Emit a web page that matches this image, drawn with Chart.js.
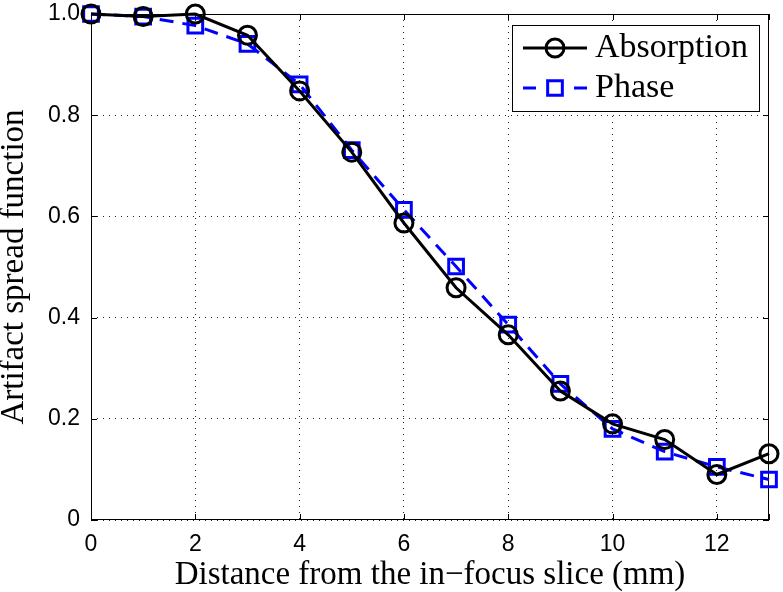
<!DOCTYPE html>
<html>
<head>
<meta charset="utf-8">
<script src="https://cdn.jsdelivr.net/npm/chart.js@4"></script>
<style>
html,body{margin:0;padding:0;background:#fff;}
#wrap{width:783px;height:592px;}
</style>
</head>
<body>
<div id="wrap"><canvas id="c" width="783" height="592"></canvas></div>
<script>
const distances = [0,1,2,3,4,5,6,7,8,9,10,11,12,13];
const absorption = [1.0,0.995,1.0,0.958,0.848,0.727,0.587,0.459,0.366,0.255,0.190,0.159,0.090,0.131];
const phase = [1.0,0.995,0.977,0.941,0.861,0.731,0.613,0.501,0.386,0.269,0.180,0.135,0.105,0.080];
const xTicks = [0,2,4,6,8,10,12];
const yTicks = [0,0.2,0.4,0.6,0.8,1.0];
const xLabel = 'Distance from the in\u2212focus slice (mm)';
const yLabel = 'Artifact spread function';

const serif = '"Liberation Serif","Times New Roman",serif';
const sans = '"Liberation Sans",Arial,Helvetica,sans-serif';

const framePlugin = {
  id: 'frame',
  beforeDatasetsDraw(chart) {
    const {ctx, chartArea: a, scales: {x, y}} = chart;
    ctx.save();
    ctx.strokeStyle = '#000';
    ctx.lineWidth = 1;
    ctx.setLineDash([]);
    ctx.beginPath();
    const tl = 6;
    xTicks.concat([13]).forEach(v => {
      const px = Math.round(x.getPixelForValue(v)) + 0.5;
      ctx.moveTo(px, a.bottom); ctx.lineTo(px, a.bottom - tl);
      ctx.moveTo(px, a.top); ctx.lineTo(px, a.top + tl);
    });
    yTicks.forEach(v => {
      const py = Math.round(y.getPixelForValue(v)) + 0.5;
      ctx.moveTo(a.left, py); ctx.lineTo(a.left + tl, py);
      ctx.moveTo(a.right, py); ctx.lineTo(a.right - tl, py);
    });
    ctx.stroke();
    ctx.strokeRect(Math.round(a.left) + 0.5, Math.round(a.top) + 0.5, Math.round(a.width) - 1, Math.round(a.height) - 1);
    ctx.restore();
  },
  afterDraw(chart) {
    const ctx = chart.ctx;
    const a = chart.chartArea;
    const bx = a.right - 257, by = a.top + 11, bw = 247, bh = 86;
    ctx.save();
    ctx.fillStyle = '#fff';
    ctx.fillRect(bx, by, bw, bh);
    ctx.strokeStyle = '#000';
    ctx.lineWidth = 1;
    ctx.strokeRect(bx + 0.5, by + 0.5, bw, bh);
    const rows = [by + 23, by + 63];
    chart.data.datasets.forEach((ds, i) => {
      const yy = rows[i];
      const x0 = bx + 11, x1 = bx + 75, xm = (x0 + x1) / 2;
      ctx.strokeStyle = ds.borderColor;
      ctx.lineWidth = ds.borderWidth;
      ctx.setLineDash(i === 0 ? [] : [13, 38]);
      ctx.beginPath(); ctx.moveTo(x0, yy); ctx.lineTo(x1, yy); ctx.stroke();
      ctx.setLineDash([]);
      ctx.lineWidth = ds.pointBorderWidth;
      ctx.beginPath();
      if (ds.pointStyle === 'circle') {
        ctx.arc(xm, yy, ds.pointRadius, 0, Math.PI * 2);
      } else {
        const s = Math.SQRT1_2 * ds.pointRadius;
        ctx.rect(xm - s, yy - s, 2 * s, 2 * s);
      }
      ctx.stroke();
      ctx.fillStyle = '#000';
      ctx.font = '34px ' + serif;
      ctx.textBaseline = 'middle';
      ctx.textAlign = 'left';
      ctx.fillText(ds.label, bx + 83, yy);
    });
    ctx.restore();
  }
};

new Chart(document.getElementById('c'), {
  type: 'line',
  data: {
    labels: distances,
    datasets: [
      {
        label: 'Absorption',
        data: distances.map((d, i) => ({x: d, y: absorption[i]})),
        borderColor: '#000',
        borderWidth: 3,
        pointStyle: 'circle',
        pointRadius: 9,
        pointBorderWidth: 3,
        pointBorderColor: '#000',
        pointBackgroundColor: 'rgba(0,0,0,0)',
        backgroundColor: 'rgba(0,0,0,0)',
        fill: false,
        tension: 0,
        clip: false
      },
      {
        label: 'Phase',
        data: distances.map((d, i) => ({x: d, y: phase[i]})),
        borderColor: '#0000ff',
        borderWidth: 3,
        borderDash: [14, 9],
        pointStyle: 'rect',
        pointRadius: 10.4,
        pointBorderWidth: 3,
        pointBorderColor: '#0000ff',
        pointBackgroundColor: 'rgba(0,0,0,0)',
        backgroundColor: 'rgba(0,0,0,0)',
        fill: false,
        tension: 0,
        clip: false
      }
    ]
  },
  options: {
    responsive: false,
    animation: false,
    devicePixelRatio: 1,
    layout: {padding: {left: 0, top: 14, right: 14, bottom: 0}},
    plugins: {legend: {display: false}, tooltip: {enabled: false}},
    scales: {
      x: {
        type: 'linear',
        min: 0, max: 13,
        afterBuildTicks: s => { s.ticks = xTicks.map(v => ({value: v})); },
        afterFit: s => { s.height = 72; s.paddingLeft = 0; s.paddingRight = 0; s.paddingTop = 0; s.paddingBottom = 0; },
        grid: {color: 'rgba(0,0,0,0.85)', lineWidth: 1, drawTicks: false},
        border: {display: false, dash: [1, 5]},
        ticks: {color: '#000', font: {family: sans, size: 23}, padding: 11, maxRotation: 0, autoSkip: false},
        title: {display: true, text: xLabel, color: '#000', font: {family: serif, size: 33, lineHeight: 1.0}, padding: {top: 0, bottom: 0}}
      },
      y: {
        type: 'linear',
        min: 0, max: 1,
        afterBuildTicks: s => { s.ticks = yTicks.map(v => ({value: v})); },
        afterFit: s => { s.width = 91; s.paddingTop = 0; s.paddingBottom = 0; s.paddingLeft = 0; s.paddingRight = 0; },
        grid: {color: 'rgba(0,0,0,0.85)', lineWidth: 1, drawTicks: false},
        border: {display: false, dash: [1, 5]},
        ticks: {color: '#000', font: {family: sans, size: 23}, padding: 11,
          callback: v => (v === 0 ? '0' : v.toFixed(1))},
        title: {display: true, text: yLabel, color: '#000', font: {family: serif, size: 33, lineHeight: 0.85}, padding: {top: 0, bottom: 0}}
      }
    }
  },
  plugins: [framePlugin]
});
</script>
</body>
</html>
